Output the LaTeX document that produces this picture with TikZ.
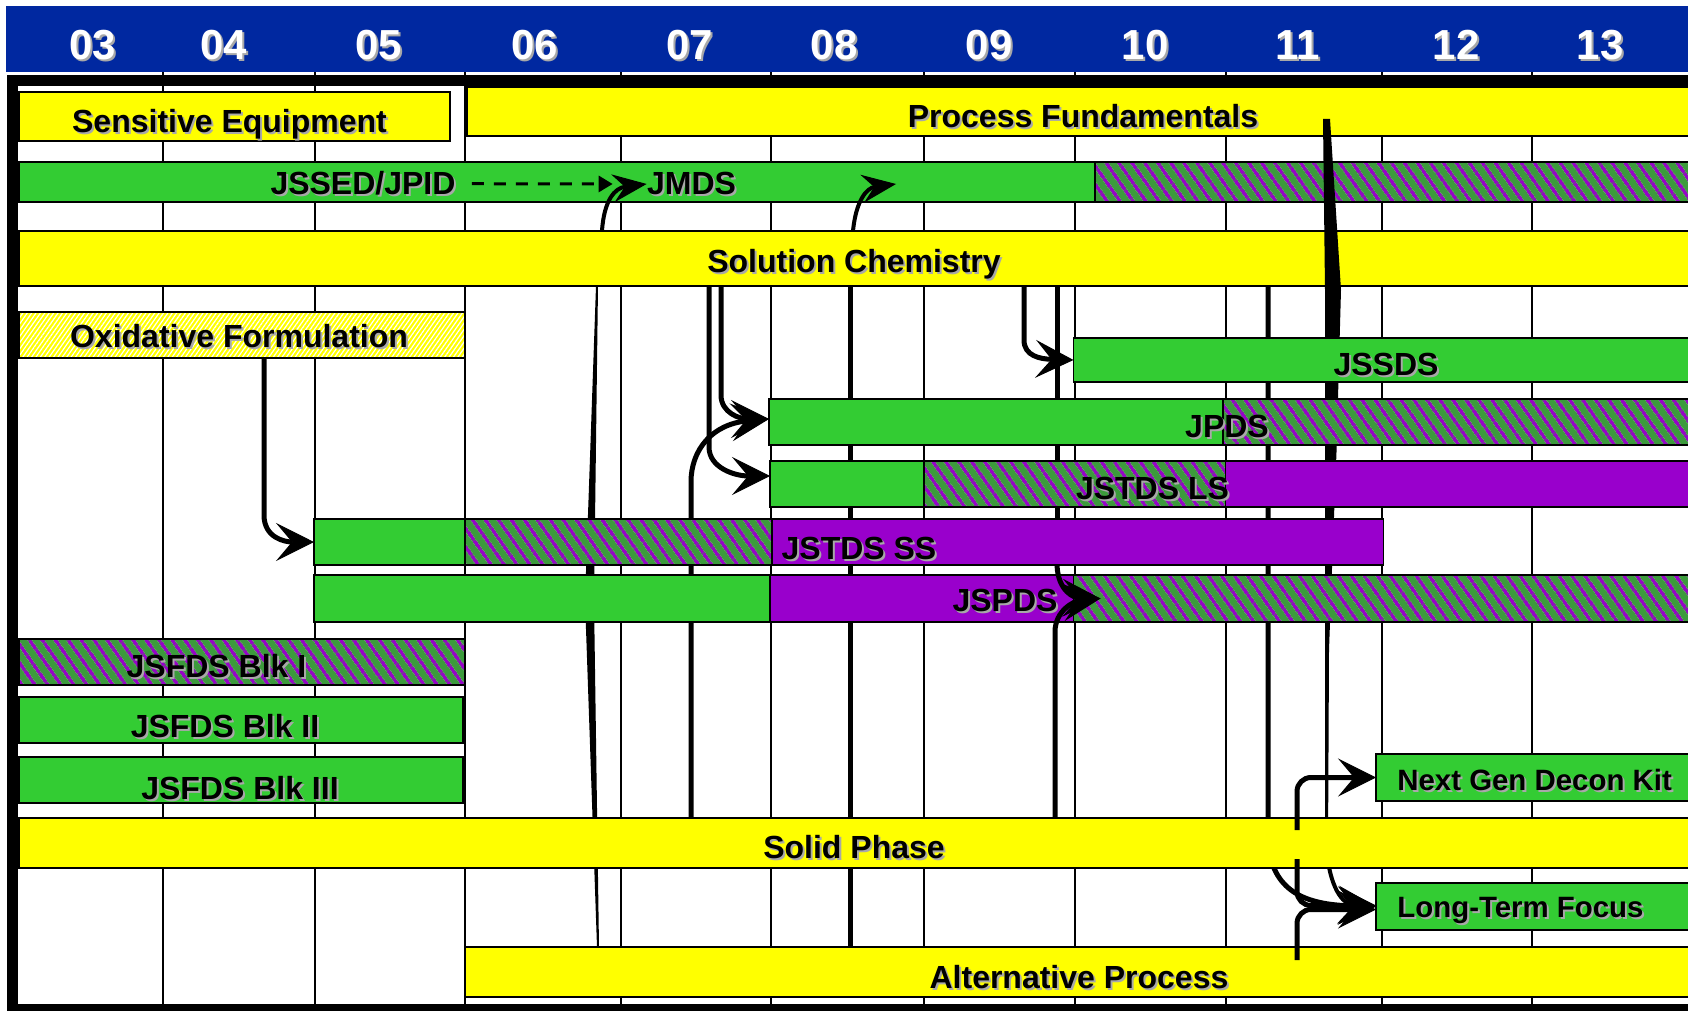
\documentclass[tikz,border=0pt]{standalone}
\usepackage{fontspec}
\setmainfont{Liberation Sans}
\usetikzlibrary{arrows.meta, patterns.meta, fit, calc}
\definecolor{colorHeader}{HTML}{0028A0}
\definecolor{colorYellow}{HTML}{FFFF00}
\definecolor{colorGreen}{HTML}{33CC33}
\definecolor{colorPurple}{HTML}{9900CC}
\definecolor{colorStripe}{HTML}{3C9B3C}
\definecolor{colorShadow}{HTML}{A8A8A8}
\pgfdeclarelayer{grid}
\pgfdeclarelayer{lowbars}
\pgfdeclarelayer{links}
\pgfdeclarelayer{top}
\pgfsetlayers{grid,lowbars,links,main,top}
\newcommand{\shlabel}[4]{%
  \node[#1, text=colorShadow] at ($(#3)+(2,2)$) {#4};
  \node[#1] (#2) at (#3) {#4};}

\begin{document}
\begin{tikzpicture}[
        x=0.5pt, y=-0.5pt,
        barBase/.style={draw=black, line width=0.75pt, inner sep=0pt, outer sep=0pt},
        barY/.style={barBase, fill=colorYellow},
        barG/.style={barBase, fill=colorGreen},
        barP/.style={barBase, fill=colorPurple},
        barH/.style={barBase, preaction={fill=colorStripe},
            pattern={Lines[angle=-55, distance=5.4pt, line width=1.8pt]}, pattern color=colorPurple},
        barOx/.style={barBase, preaction={fill=colorYellow},
            pattern={Lines[angle=55, distance=1.8pt, line width=0.6pt]}, pattern color=white},
        lab/.style={font=\bfseries\fontsize{16}{19}\selectfont, inner sep=0pt, anchor=base},
        labsm/.style={lab, font=\bfseries\fontsize{14.7}{17}\selectfont, anchor=base west},
        yr/.style={font=\bfseries\fontsize{21}{25}\selectfont, text=white, inner sep=0pt, anchor=base},
        wire/.style={line width=2.5pt},
        link/.style={wire, -{Stealth[length=19pt, width=19pt, inset=8pt, line width=0.5pt]}},
        slink/.style={line width=2pt, -{Stealth[length=17pt, width=14pt, inset=6pt, line width=0.5pt]}},
        dlink/.style={line width=1.5pt, dash pattern=on 6pt off 5pt, -{Triangle[length=7pt, width=8pt]}}
    ]
    \useasboundingbox (0,0) rectangle (1688,1011);

    \begin{pgfonlayer}{grid}
        \foreach \gx in {162.5,315,465,621,771,924,1075,1226,1382,1532}
            \draw[line width=1pt] (\gx,72) -- (\gx,1004);
    \end{pgfonlayer}

    \begin{pgfonlayer}{lowbars}
        \node[barY, fit={(467,87)(1695,136)}] (pf) {};
        \node[barG, fit={(19,162)(1095,202)}] (jssedG) {};
        \node[barH, fit={(1095,162)(1695,202)}] (jssedH) {};
        \node[barY, fit={(19,231)(1695,286)}] (solchem) {};
    \end{pgfonlayer}

    \fill[colorHeader] (6,6) rectangle (1695,72);
    \fill[black] (7,75) rectangle (1695,86);
    \fill[black] (7,75) rectangle (18,1011);
    \fill[black] (7,1004) rectangle (1695,1011);

    \node[barY, fit={(19,92)(450,141)}] (se) {};
    \node[barOx, fit={(19,312)(465,358)}] (oxid) {};
    \node[barG, fit={(1073.5,338)(1695,382)}] (jssds) {};
    \node[barG, fit={(769,399)(1223,445)}] (jpdsG) {};
    \node[barH, fit={(1223,399)(1695,445)}] (jpdsH) {};
    \node[barG, fit={(770,461)(924,507)}] (jstdslsG) {};
    \node[barH, fit={(924,461)(1225.5,507)}] (jstdslsH) {};
    \node[barP, fit={(1225.5,461)(1695,507)}] (jstdslsP) {};
    \node[barG, fit={(314,519)(465,565)}] (jstdsssG) {};
    \node[barH, fit={(465,519)(772,565)}] (jstdsssH) {};
    \node[barP, fit={(772,519)(1383.5,565)}] (jstdsssP) {};
    \node[barG, fit={(314,575)(770,622)}] (jspdsG) {};
    \node[barP, fit={(770,575)(1073.5,622)}] (jspdsP) {};
    \node[barH, fit={(1073.5,575)(1695,622)}] (jspdsH) {};
    \node[barH, fit={(19,639)(465,685)}] (blk1) {};
    \node[barG, fit={(19,697)(463,743)}] (blk2) {};
    \node[barG, fit={(19,757)(463,803)}] (blk3) {};
    \node[barG, fit={(1376,754)(1695,801)}] (ngdk) {};
    \node[barY, fit={(19,818)(1695,868)}] (solid) {};
    \node[barG, fit={(1376,883)(1695,930)}] (lterm) {};
    \node[barY, fit={(465,947)(1695,997)}] (alt) {};

    \foreach \yy/\xx in {03/93,04/224,05/379,06/535,07/690,08/834,09/989,10/1145,11/1298,12/1456,13/1600}
        {\shlabel{yr}{y\yy}{\xx,60}{\yy}}

    \shlabel{lab}{seL}{229.5,133}{Sensitive Equipment}
    \shlabel{lab}{pfL}{1083,128}{Process Fundamentals}
    \shlabel{lab}{jssed}{363,195}{JSSED/JPID}
    \shlabel{lab}{jmds}{691.5,195}{JMDS}
    \shlabel{lab}{solchemL}{854,272}{Solution Chemistry}
    \shlabel{lab}{oxidL}{239,347}{Oxidative Formulation}
    \shlabel{lab}{jssdsL}{1386,375}{JSSDS}
    \shlabel{lab}{jpdsL}{1227,437}{JPDS}
    \shlabel{lab}{jstdslsL}{1152.5,499}{JSTDS LS}
    \shlabel{lab}{jstdsssL}{859,559}{JSTDS SS}
    \shlabel{lab}{jspdsL}{1005,611}{JSPDS}
    \shlabel{lab}{blk1L}{216.5,677}{JSFDS Blk I}
    \shlabel{lab}{blk2L}{225,737}{JSFDS Blk II}
    \shlabel{lab}{blk3L}{240,799}{JSFDS Blk III}
    \shlabel{lab}{solidL}{854,858}{Solid Phase}
    \shlabel{labsm}{ngdkL}{1397,790}{Next Gen Decon Kit}
    \shlabel{labsm}{ltermL}{1397,917}{Long-Term Focus}
    \shlabel{lab}{altL}{1079,988}{Alternative Process}

    \begin{pgfonlayer}{links}
        \draw[dlink] ([xshift=8pt]jssed.east) -- ([xshift=-17pt]jmds.west);
        \draw[slink] (602,0 |- solchem.north) .. controls (604,200) and (615,188) .. (jmds.west);
        \draw[slink] (853,0 |- solchem.north) .. controls (856,200) and (867,188) .. (896,184);
        \draw[link] (264,0 |- oxid.south) -- (264,515) .. controls (264,538) and (285,542) .. (jstdsssG.west);
        \fill (596,0 |- solchem.south) -- (585,600) -- (597,0 |- alt.north) -- (599,0 |- alt.north)
            -- (594,600) -- (598,0 |- solchem.south) -- cycle;
        \draw[wire] (850,0 |- solchem.south) -- (850,0 |- alt.north);
        \draw[link] (721,0 |- solchem.south) -- (721,395) .. controls (721,413) and (740,419) .. ([yshift=1.5pt]jpdsG.west);
        \draw[link] (709,0 |- solchem.south) -- (709,447) .. controls (709,468) and (735,476) .. ([yshift=4pt]jstdslsG.west);
        \draw[link] (691,0 |- solid.north) -- (691,482) .. controls (691,450) and (712,424) .. ([yshift=1.5pt]jpdsG.west);
        \draw[link] (1024,0 |- solchem.south) -- (1024,340) .. controls (1024,356) and (1040,359) .. (jssds.west);
        \draw[wire] (1057,0 |- solchem.south) -- (1057,0 |- jstdsssP.south) coordinate (eMid);
        \draw[link] (1268,0 |- solchem.south) -- (1268,845) .. controls (1274,895) and (1310,905) .. (lterm.west);
        \fill (1323,119) -- (1330,119) -- (1341,290) -- (1336.5,452) -- (1332,568) -- (1329,650)
            -- (1328,850) -- (1325,850) -- (1325,290) -- cycle;
        \draw[link, line width=2pt] (1326.5,850) .. controls (1331,895) and (1346,905) .. (lterm.west);
    \end{pgfonlayer}

    \begin{pgfonlayer}{top}
        \draw[link] (eMid) .. controls (1058,592) and (1075,598) .. ([xshift=13.5pt]jspdsH.west);
        \draw[link] (1055,0 |- solid.north) -- (1055,632) .. controls (1055,610) and (1075,601) .. ([xshift=13.5pt]jspdsH.west);
        \draw[link, rounded corners=7pt] ($(1297,0 |- solid.north)+(0,12)$) |- (ngdk.west);
        \draw[link, rounded corners=7pt] ($(1297,0 |- solid.north)+(0,41)$) |- ([yshift=0.5pt]lterm.west);
        \draw[link, rounded corners=7pt] ($(1297,0 |- alt.north)+(0,13)$) |- ([yshift=-1.5pt]lterm.west);
    \end{pgfonlayer}
\end{tikzpicture}
\end{document}
